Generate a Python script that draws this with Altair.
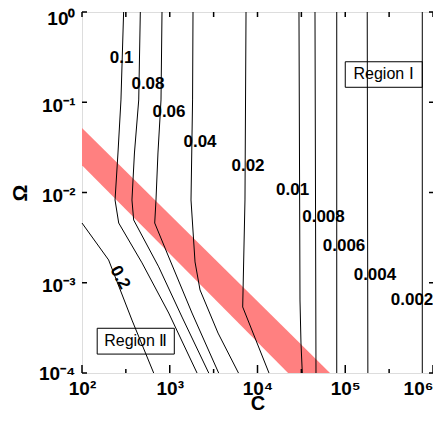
import altair as alt
import pandas as pd

# ---------------- data ----------------
x_domain = [1e2, 1e6]
y_domain = [1e-4, 1.0]

# contour traces: C values and Omega values
lvl_0_2_C = [100, 201, 371, 656]
lvl_0_2_W = [0.00459, 0.00179, 0.000386, 0.0001]
lvl_0_1_C = [298, 278, 257, 238, 262, 483, 973, 2046]
lvl_0_1_W = [1.0, 0.106, 0.0274, 0.00826, 0.00459, 0.00166, 0.000462, 0.0001]
lvl_0_08_C = [462, 443, 396, 371, 388, 748, 1380, 2782]
lvl_0_08_W = [1.0, 0.106, 0.0274, 0.00826, 0.00496, 0.0015, 0.000417, 0.0001]
lvl_0_06_C = [816, 795, 734, 697, 674, 973, 1793, 3610]
lvl_0_06_W = [1.0, 0.106, 0.0274, 0.00826, 0.00459, 0.00193, 0.000462, 0.0001]
lvl_0_04_C = [1841, 1820, 1747, 1941, 2213, 3550, 6070]
lvl_0_04_W = [1.0, 0.106, 0.00826, 0.0017, 0.000832, 0.000277, 0.0001]
lvl_0_02_C = [7400, 7200, 6780, 13520]
lvl_0_02_W = [1.0, 0.00826, 0.000539, 0.0001]
lvl_0_01_C = [29700, 30500, 31300, 32400]
lvl_0_01_W = [1.0, 0.000644, 0.000215, 0.0001]
lvl_0_008_C = [45200, 46400]
lvl_0_008_W = [1.0, 0.0001]
lvl_0_006_C = [80000, 80000]
lvl_0_006_W = [1.0, 0.0001]
lvl_0_004_C = [178000, 181000]
lvl_0_004_W = [1.0, 0.0001]
lvl_0_002_C = [755000, 755000]
lvl_0_002_W = [1.0, 0.0001]

levels = {
    "0.2": (lvl_0_2_C, lvl_0_2_W),
    "0.1": (lvl_0_1_C, lvl_0_1_W),
    "0.08": (lvl_0_08_C, lvl_0_08_W),
    "0.06": (lvl_0_06_C, lvl_0_06_W),
    "0.04": (lvl_0_04_C, lvl_0_04_W),
    "0.02": (lvl_0_02_C, lvl_0_02_W),
    "0.01": (lvl_0_01_C, lvl_0_01_W),
    "0.008": (lvl_0_008_C, lvl_0_008_W),
    "0.006": (lvl_0_006_C, lvl_0_006_W),
    "0.004": (lvl_0_004_C, lvl_0_004_W),
    "0.002": (lvl_0_002_C, lvl_0_002_W),
}

# contour labels
label_text = ["0.1", "0.08", "0.06", "0.04", "0.02", "0.01", "0.008", "0.006", "0.004", "0.002"]
label_C = [283, 565, 980, 2213, 7800, 25100, 56500, 96900, 218000, 577000]
label_W = [0.307, 0.159, 0.0770, 0.0367, 0.0199, 0.01066, 0.00529, 0.00255, 0.00123, 0.000644]
rot_label_text = ["0.2"]
rot_label_C = [271]
rot_label_W = [0.00114]

# red band
band_C = [100, 22300, 67000]
band_upper = [0.052, 0.000288, 0.0001]
band_lower = [0.020, 0.0001, 0.0001]

# region annotations
region_text = ["Region \u2160", "Region \u2161"]
region_C = [273500, 410]
region_W = [0.203, 0.000225]
box_C1 = [100000, 149]
box_C2 = [755000, 1127]
box_W1 = [0.1465, 0.000162]
box_W2 = [0.281, 0.000313]

# ticks
major_x = [1e2, 1e3, 1e4, 1e5, 1e6]
minor_x = [316, 3162, 31623, 316228]
major_y = [1e-4, 1e-3, 1e-2, 1e-1, 1.0]

# ---------------- build tables ----------------
rows = []
for lv, (cs, ws) in levels.items():
    for i, (c, w) in enumerate(zip(cs, ws)):
        rows.append({"level": lv, "C": c, "W": w, "o": i})
lines_df = pd.DataFrame(rows)
labels_df = pd.DataFrame({"t": label_text, "C": label_C, "W": label_W})
rot_df = pd.DataFrame({"t": rot_label_text, "C": rot_label_C, "W": rot_label_W})
band_df = pd.DataFrame({"C": band_C, "W": band_upper, "W2": band_lower})
region_df = pd.DataFrame({"t": region_text, "C": region_C, "W": region_W})
box_df = pd.DataFrame({"C": box_C1, "C2": box_C2, "W": box_W1, "W2": box_W2})
mx_df = pd.DataFrame({"C": major_x})
nx_df = pd.DataFrame({"C": minor_x})
my_df = pd.DataFrame({"W": major_y})

W_PX, H_PX = 351, 361
FONT = "Liberation Sans"

sup = {0: "\u2070", 1: "\u00b9", 2: "\u00b2", 3: "\u00b3", 4: "\u2074",
       5: "\u2075", 6: "\u2076"}


def label_expr(exps, neg):
    parts = []
    for e in exps:
        s = "10" + ("\u207b" if neg and e != 0 else "") + sup[abs(e)]
        parts.append(f"round(log(datum.value)/LN10)=={e} ? '{s}' : ")
    return "".join(parts) + "''"


x_axis = alt.Axis(values=major_x, labelExpr=label_expr([2, 3, 4, 5, 6], False),
                  ticks=False, domain=False, grid=False, title="C",
                  labelFont=FONT, labelFontSize=19, labelFontWeight="bold",
                  labelPadding=6, labelColor="black", labelFlush=False,
                  labelAlign={"condition": {"test": "datum.value >= 999999", "value": "right"},
                              "value": "center"},
                  titleFont=FONT, titleFontSize=20, titleFontWeight="bold",
                  titleBaseline="alphabetic", titleY=36, titleColor="black")
y_axis = alt.Axis(values=major_y, labelExpr=label_expr([-4, -3, -2, -1, 0], True),
                  ticks=False, domain=False, grid=False, title="\u03a9",
                  labelFont=FONT, labelFontSize=19, labelFontWeight="bold",
                  labelPadding=7, labelColor="black", labelFlush=False,
                  labelOffset={"condition": [
                      {"test": "datum.value >= 0.99", "value": 6},
                      {"test": "datum.value <= 0.00011", "value": 0}],
                      "value": 3},
                  titleFont=FONT, titleFontSize=21, titleFontWeight="bold",
                  titlePadding=8, titleColor="black")

xs = alt.Scale(type="log", domain=x_domain, nice=False)
ys = alt.Scale(type="log", domain=y_domain, nice=False)


def X(field="C"):
    return alt.X(f"{field}:Q", scale=xs, axis=x_axis)


def Y(field="W"):
    return alt.Y(f"{field}:Q", scale=ys, axis=y_axis)


band = alt.Chart(band_df).mark_area(color="#ff8080", opacity=1).encode(
    x=X(), y=Y(), y2=alt.Y2("W2:Q"))

lines = alt.Chart(lines_df).mark_line(color="black", strokeWidth=1).encode(
    x=X(), y=Y(), detail="level:N", order="o:Q")

labels = alt.Chart(labels_df).mark_text(font=FONT, fontSize=17, fontWeight="bold",
                                        color="black").encode(
    x=X(), y=Y(), text="t:N")
rot_labels = alt.Chart(rot_df).mark_text(font=FONT, fontSize=17, fontWeight="bold",
                                         color="black", angle=62).encode(
    x=X(), y=Y(), text="t:N")

boxes = alt.Chart(box_df).mark_rect(fillOpacity=0, stroke="black", strokeWidth=1).encode(
    x=X(), x2=alt.X2("C2:Q"), y=Y(), y2=alt.Y2("W2:Q"))
regions = alt.Chart(region_df).mark_text(font=FONT, fontSize=16, color="black").encode(
    x=X(), y=Y(), text="t:N")

tick_bot_major = alt.Chart(mx_df).mark_rule(color="black", strokeWidth=1.5).encode(
    x=X(), y=alt.value(H_PX), y2=alt.value(H_PX - 8))
tick_bot_minor = alt.Chart(nx_df).mark_rule(color="black", strokeWidth=1.5).encode(
    x=X(), y=alt.value(H_PX), y2=alt.value(H_PX - 4))
tick_top_major = alt.Chart(mx_df).mark_rule(color="black", strokeWidth=1.5).encode(
    x=X(), y=alt.value(0), y2=alt.value(5))
tick_top_minor = alt.Chart(nx_df).mark_rule(color="black", strokeWidth=1.5).encode(
    x=X(), y=alt.value(0), y2=alt.value(5))
tick_left = alt.Chart(my_df).mark_rule(color="black", strokeWidth=1.5).encode(
    y=Y(), x=alt.value(0), x2=alt.value(5))
tick_right = alt.Chart(my_df).mark_rule(color="black", strokeWidth=1.5).encode(
    y=Y(), x=alt.value(W_PX), x2=alt.value(W_PX - 4))

chart = alt.layer(
    band, lines, labels, rot_labels, boxes, regions,
    tick_bot_major, tick_bot_minor, tick_top_major, tick_top_minor, tick_left, tick_right
).properties(
    width=W_PX, height=H_PX,
    autosize=alt.AutoSizeParams(type="none"),
    padding={"left": 74, "top": 4, "right": 0, "bottom": 40},
).configure_view(stroke="black", strokeWidth=2).configure(background="white")

chart.save("out.html", embed_options={"renderer": "svg", "actions": False})
